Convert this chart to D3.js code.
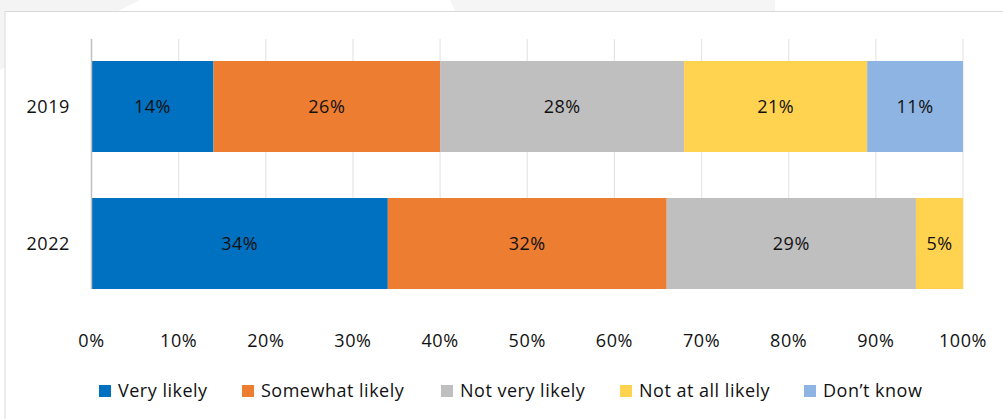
<!DOCTYPE html>
<html lang="en">
  <head>
    <meta charset="utf-8">
    <title>Likelihood by year</title>
    <script src="https://unpkg.com/d3@7/dist/d3.min.js"></script>
    <style type="text/css">
body,html{
    margin: 0;
    padding: 0;
    background: #fff;
    font-family: "Open Sans", sans-serif;
  }
    </style>
  </head>
  <body>
    <script type="text/javascript">
      // data
      const years = ["2019", "2022"];
      const categories = ["Very likely", "Somewhat likely", "Not very likely", "Not at all likely", "Don\u2019t know"];
      const values2019 = [14, 26, 28, 21, 11];
      const values2022 = [34, 32, 28.6, 5.4, 0];
      const ticks = [0, 10, 20, 30, 40, 50, 60, 70, 80, 90, 100];
      const colors = ["#0070C0", "#ED7D31", "#BFBFBF", "#FFD34F", "#8EB4E3"];

      const w = 1003, h = 419;
      const plotTop = 39, plotBottom = 289;
      const fs = 18;

      const svg = d3.select("body").append("svg")
        .attr("width", w).attr("height", h);

      // faint backdrop shapes outside the chart frame
      svg.append("path").attr("d", "M0,0 L140,0 L0,70 Z").attr("fill", "#f4f4f4");
      svg.append("path").attr("d", "M450,0 L775,0 L775,11 L455,11 Z").attr("fill", "#f5f5f5");
      svg.append("path").attr("d", "M1240,0 L1003,0 L1003,11 L1232,11 Z").attr("fill", "#f5f5f5");

      svg.append("rect")
        .attr("x", 5).attr("y", 11.5)
        .attr("width", 1010).attr("height", 420)
        .attr("fill", "#fff")
        .attr("stroke", "#d9d9d9");

      const x = d3.scaleLinear().domain([0, 100]).range([91.5, 963]);
      const y = d3.scaleBand().domain(years).range([61, plotBottom]).paddingInner(46 / 137).paddingOuter(0);

      // gridlines
      svg.append("g").selectAll("line")
        .data(ticks.slice(1))
        .enter().append("line")
        .attr("x1", d => x(d)).attr("x2", d => x(d))
        .attr("y1", plotTop).attr("y2", plotBottom)
        .attr("stroke", "#e6e6e6").attr("stroke-width", 1.2);

      const rows = [values2019, values2022];
      rows.forEach(function(vals, r){
        let acc = 0;
        const segs = vals.map(function(v, i){
          const s = {start: acc, value: v, color: colors[i]};
          acc += v;
          return s;
        }).filter(s => s.value > 0);
        const g = svg.append("g");
        g.selectAll("rect").data(segs).enter().append("rect")
          .attr("x", d => x(d.start))
          .attr("width", d => x(d.start + d.value) - x(d.start))
          .attr("y", y(years[r]))
          .attr("height", y.bandwidth())
          .attr("fill", d => d.color);
        g.selectAll("text").data(segs).enter().append("text")
          .attr("x", d => (x(d.start) + x(d.start + d.value)) / 2)
          .attr("y", y(years[r]) + y.bandwidth() / 2)
          .attr("dy", "0.36em")
          .attr("text-anchor", "middle")
          .attr("font-size", fs)
          .attr("letter-spacing", 0.5)
          .attr("fill", "#111")
          .text(d => Math.round(d.value) + "%");
      });

      // axis line
      svg.append("line")
        .attr("x1", x(0)).attr("x2", x(0))
        .attr("y1", plotTop).attr("y2", plotBottom)
        .attr("stroke", "#bfbfbf").attr("stroke-width", 1.5);

      // year labels
      svg.append("g").selectAll("text")
        .data(years).enter().append("text")
        .attr("x", 70)
        .attr("y", d => y(d) + y.bandwidth() / 2)
        .attr("dy", "0.36em")
        .attr("text-anchor", "end")
        .attr("font-size", fs)
        .attr("letter-spacing", 0.6)
        .attr("fill", "#111")
        .text(d => d);

      // x tick labels
      svg.append("g").selectAll("text")
        .data(ticks).enter().append("text")
        .attr("x", d => x(d))
        .attr("y", 341)
        .attr("dy", "0.36em")
        .attr("text-anchor", "middle")
        .attr("font-size", fs)
        .attr("letter-spacing", 0.6)
        .attr("fill", "#111")
        .text(d => d + "%");

      // legend
      const legendX = [99, 242, 441, 620, 804];
      const lg = svg.append("g").selectAll("g")
        .data(categories).enter().append("g")
        .attr("transform", (d, i) => "translate(" + legendX[i] + ",385)");
      lg.append("rect")
        .attr("width", 12).attr("height", 12)
        .attr("fill", (d, i) => colors[i]);
      lg.append("text")
        .attr("x", 19).attr("y", 6)
        .attr("dy", "0.36em")
        .attr("font-size", fs)
        .attr("letter-spacing", 0.5)
        .attr("fill", "#111")
        .text(d => d);
    </script>
  </body>
</html>
